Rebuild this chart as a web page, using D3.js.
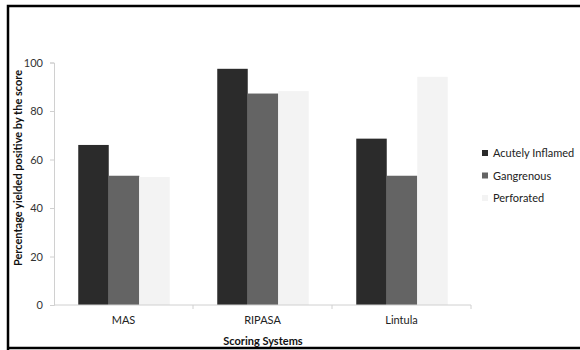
<!DOCTYPE html>
<html><head><meta charset="utf-8">
<script src="https://cdn.jsdelivr.net/npm/d3@7"></script>
<style>body{margin:0;background:#fff}svg{display:block}text{font-family:Lato,"Open Sans",sans-serif}</style>
</head><body>
<svg id="c" width="580" height="350"></svg>
<script>
const categories = ["MAS", "RIPASA", "Lintula"];
const seriesNames = ["Acutely Inflamed", "Gangrenous", "Perforated"];
const acutelyInflamed = [66, 97.4, 68.6];
const gangrenous = [53.3, 87.2, 53.3];
const perforated = [52.8, 88.2, 94.1];
const yTicks = [0, 20, 40, 60, 80, 100];
const colors = ["#2b2b2b", "#646464", "#f3f3f3"];

const series = [acutelyInflamed, gangrenous, perforated];
const svg = d3.select("#c");

// outer frame
svg.append("path").attr("d", "M8,350 L8,6 L582,6 M8,348 L582,348")
  .attr("fill","none").attr("stroke","#000").attr("stroke-width",2.5);

const x0 = 54, x1 = 471, yTop = 62.5, yBot = 305;
const x = d3.scaleBand().domain(categories).range([x0, x1]).paddingInner(0).paddingOuter(0);
const y = d3.scaleLinear().domain([0, 100]).range([yBot, yTop]);
const barW = 30.5;
const groupW = barW * 3;

// bars
categories.forEach((c, i) => {
  const gx = x(c) + x.bandwidth()/2 - groupW/2 + 0.5;
  series.forEach((s, k) => {
    svg.append("rect")
      .attr("x", gx + k*barW).attr("width", barW)
      .attr("y", y(s[i])).attr("height", y(0) - y(s[i]))
      .attr("fill", colors[k]);
  });
});

// y axis
const yAxis = d3.axisLeft(y).tickValues(yTicks).tickSize(4).tickPadding(7);
const gy = svg.append("g").attr("transform", `translate(${x0},0)`).call(yAxis);
gy.select(".domain").attr("stroke", "#d0d0d0");
gy.selectAll(".tick line").attr("stroke", "#d0d0d0");
gy.selectAll(".tick text").attr("fill", "#333").attr("font-size", 11);

// x axis
const xAxis = d3.axisBottom(x).tickSize(0).tickPadding(11);
const gx = svg.append("g").attr("transform", `translate(0,${yBot})`).call(xAxis);
gx.select(".domain").attr("stroke", "#d0d0d0").attr("d", `M${x0},0H${x1}`);
gx.selectAll(".tick text").attr("fill", "#222").attr("font-size", 11);
categories.slice(1).concat([]).forEach(c => {
  svg.append("line").attr("x1", x(c)).attr("x2", x(c)).attr("y1", yBot).attr("y2", yBot+4)
    .attr("stroke", "#d0d0d0");
});
svg.append("line").attr("x1", x1).attr("x2", x1).attr("y1", yBot).attr("y2", yBot+4).attr("stroke", "#d0d0d0");

// axis titles
svg.append("text").attr("transform", "translate(22,168) rotate(-90)")
  .attr("text-anchor", "middle").attr("font-size", 11).attr("font-weight", "bold")
  .attr("fill", "#111").text("Percentage yielded positive by the score");
svg.append("text").attr("x", 263).attr("y", 345).attr("text-anchor", "middle")
  .attr("font-size", 11).attr("font-weight", "bold").attr("fill", "#111").text("Scoring Systems");

// legend
seriesNames.forEach((n, k) => {
  const cy = 153 + k*22.5;
  svg.append("rect").attr("x", 482).attr("y", cy-3).attr("width", 6).attr("height", 6).attr("fill", colors[k]);
  svg.append("text").attr("x", 493).attr("y", cy+4).attr("font-size", 11).attr("fill", "#222").text(n);
});
</script>
</body></html>
